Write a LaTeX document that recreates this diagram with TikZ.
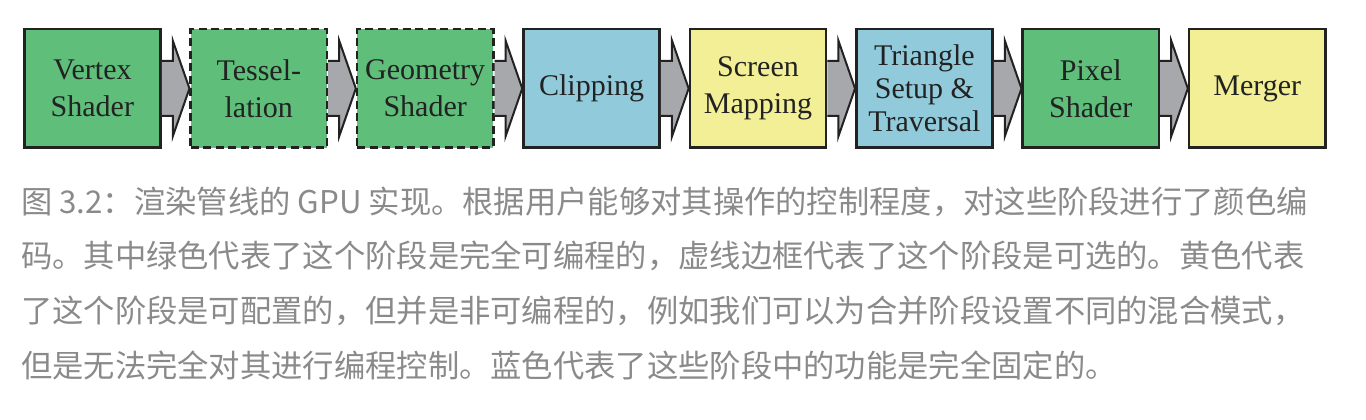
\documentclass[tikz,border=0pt]{standalone}
\usepackage{fontspec}
\setmainfont{Liberation Serif}
\newfontfamily\cjk{Noto Sans CJK SC}
\definecolor{progstage}{RGB}{94,190,122}
\definecolor{fixedstage}{RGB}{145,203,219}
\definecolor{configstage}{RGB}{243,239,150}
\definecolor{arrowgray}{RGB}{167,168,172}
\definecolor{captiongray}{RGB}{138,138,138}
\definecolor{inkline}{RGB}{34,34,34}

\begin{document}
\begin{tikzpicture}[x=1pt, y=1pt,
    stage/.style={draw=inkline, line width=2.5pt, minimum width=136.2pt, minimum height=118.5pt,
      inner sep=0pt, align=center, text=inkline, font=\fontsize{30}{37}\selectfont},
    optional/.style={dash pattern=on 8pt off 4.5pt},
    pipearrow/.style={draw=inkline, fill=arrowgray, line width=2pt, line join=miter},
    caption/.style={anchor=base west, inner sep=0pt, text=captiongray, font=\cjk\fontsize{31.3}{55}\selectfont}]
  \useasboundingbox (0,0) rectangle (1366,420);

  % Draw the pipeline stages
  \node[stage, fill=progstage] (vs) at (92.4, 331.5) {Vertex\\Shader};
  \node[stage, fill=progstage, optional] (ts) at (258.8, 331.5) {Tessel-\\lation};
  \node[stage, fill=progstage, optional] (gs) at (425.2, 331.5) {Geometry\\Shader};
  \node[stage, fill=fixedstage] (cl) at (591.6, 331.5) {Clipping};
  \node[stage, fill=configstage] (sm) at (758.0, 331.5) {Screen\\Mapping};
  \node[stage, fill=fixedstage, font=\fontsize{30}{33}\selectfont] (tr) at (924.4, 331.5) {Triangle\\Setup \&\\Traversal};
  \node[stage, fill=progstage] (ps) at (1090.8, 331.5) {Pixel\\Shader};
  \node[stage, fill=configstage] (mg) at (1257.2, 331.5) {Merger};

  % Draw the arrows between stages
  \draw[pipearrow] ([yshift=27.5]vs.east) -- ++(11,0) -- ++(0,20.5) -- (ts.west) -- ++(-16.7,-48) -- ++(0,20.5) -- ++(-11,0);
  \draw[pipearrow] ([yshift=27.5]ts.east) -- ++(11,0) -- ++(0,20.5) -- (gs.west) -- ++(-16.7,-48) -- ++(0,20.5) -- ++(-11,0);
  \draw[pipearrow] ([yshift=27.5]gs.east) -- ++(11,0) -- ++(0,20.5) -- (cl.west) -- ++(-16.7,-48) -- ++(0,20.5) -- ++(-11,0);
  \draw[pipearrow] ([yshift=27.5]cl.east) -- ++(11,0) -- ++(0,20.5) -- (sm.west) -- ++(-16.7,-48) -- ++(0,20.5) -- ++(-11,0);
  \draw[pipearrow] ([yshift=27.5]sm.east) -- ++(11,0) -- ++(0,20.5) -- (tr.west) -- ++(-16.7,-48) -- ++(0,20.5) -- ++(-11,0);
  \draw[pipearrow] ([yshift=27.5]tr.east) -- ++(11,0) -- ++(0,20.5) -- (ps.west) -- ++(-16.7,-48) -- ++(0,20.5) -- ++(-11,0);
  \draw[pipearrow] ([yshift=27.5]ps.east) -- ++(11,0) -- ++(0,20.5) -- (mg.west) -- ++(-16.7,-48) -- ++(0,20.5) -- ++(-11,0);

  % Add caption
  \node[caption] (cap1) at (21, 206) {图 3.2：渲染管线的 GPU 实现。根据用户能够对其操作的控制程度，对这些阶段进行了颜色编};
  \node[caption] (cap2) at (21, 152) {码。其中绿色代表了这个阶段是完全可编程的，虚线边框代表了这个阶段是可选的。黄色代表};
  \node[caption] (cap3) at (21, 97) {了这个阶段是可配置的，但并是非可编程的，例如我们可以为合并阶段设置不同的混合模式，};
  \node[caption] (cap4) at (21, 42) {但是无法完全对其进行编程控制。蓝色代表了这些阶段中的功能是完全固定的。};

\end{tikzpicture}
\end{document}
